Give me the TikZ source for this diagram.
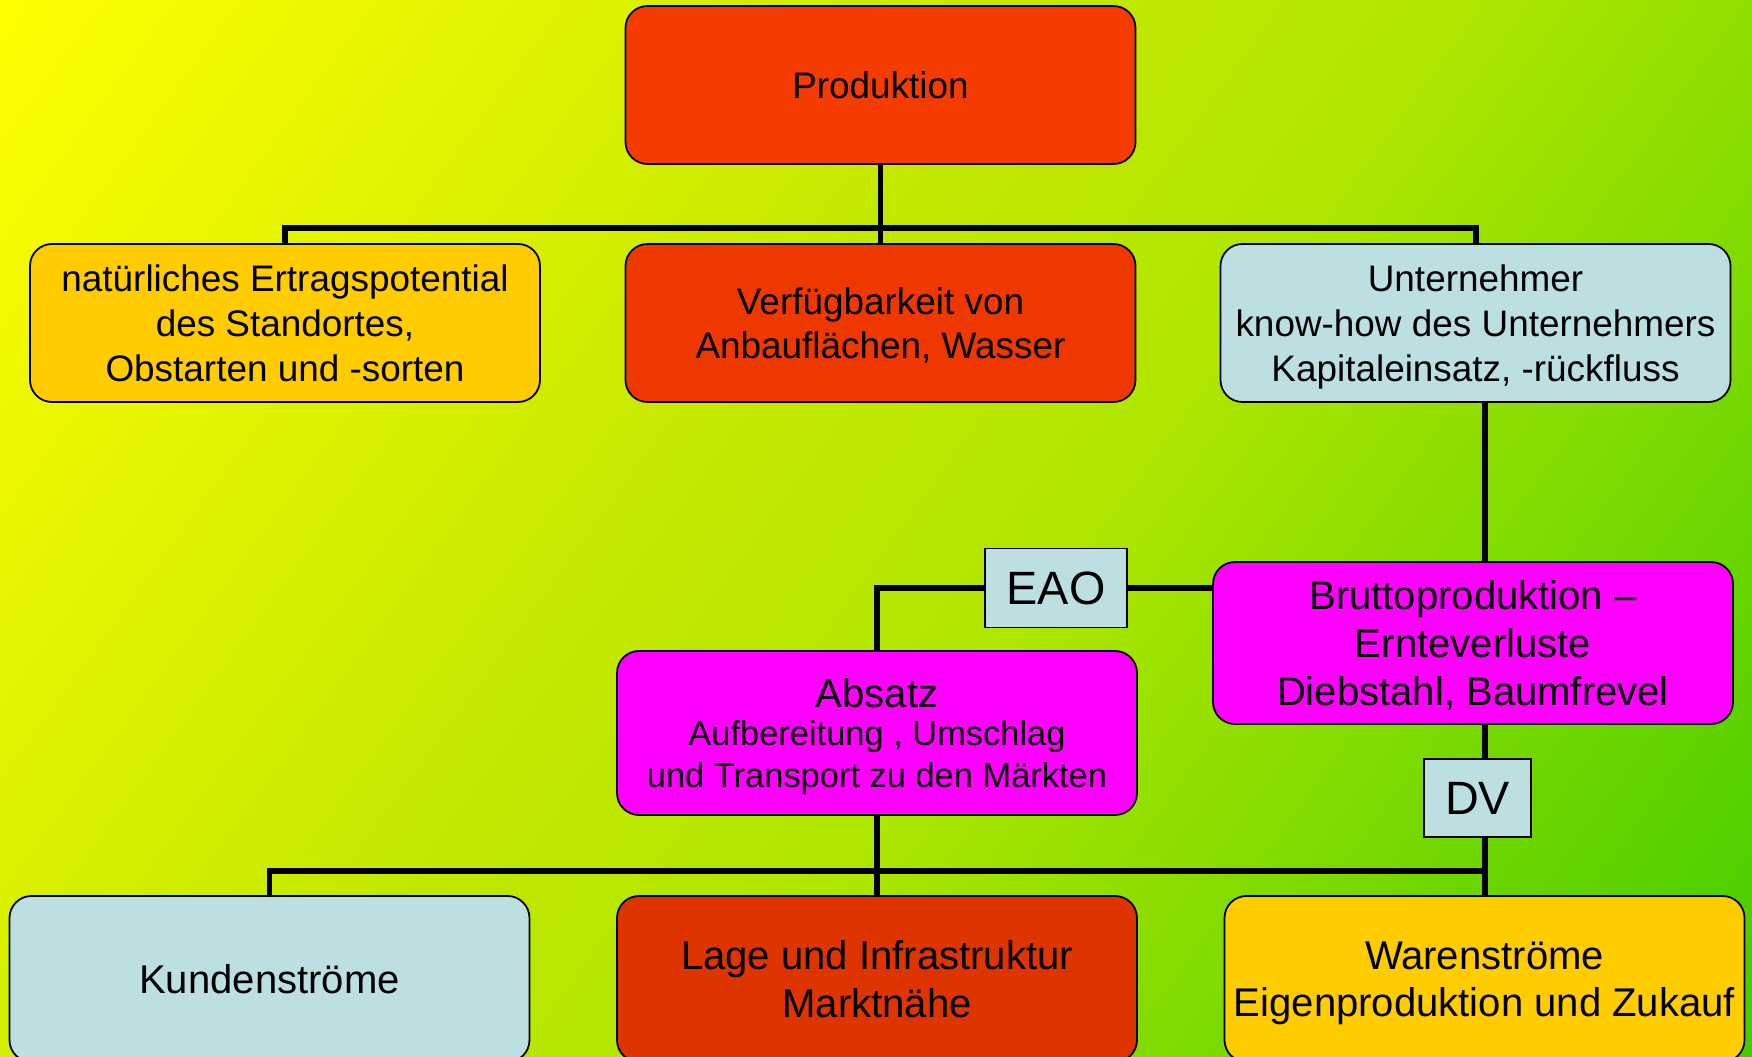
\documentclass[tikz,border=0pt]{standalone}
\usepackage{fontspec}
\setmainfont{Liberation Sans}
\usetikzlibrary{positioning,calc}
\definecolor{bgtop}{RGB}{255,255,0}
\definecolor{bgmida}{RGB}{196,232,0}
\definecolor{bgmidb}{RGB}{174,230,0}
\definecolor{bgbot}{RGB}{66,204,0}
\definecolor{redbox}{RGB}{245,60,0}
\definecolor{redbox2}{RGB}{238,56,0}
\definecolor{redbox3}{RGB}{222,52,0}
\definecolor{goldbox}{RGB}{255,204,0}
\definecolor{bluebox}{RGB}{188,224,226}
\definecolor{pinkbox}{RGB}{255,0,255}
\pgfdeclareverticalshading{bgfade}{100bp}{color(0bp)=(bgbot); color(15bp)=(bgbot);
  color(44bp)=(bgmidb); color(56bp)=(bgmida); color(85bp)=(bgtop); color(100bp)=(bgtop)}
\tikzset{
  box/.style={draw, line width=.5pt, rounded corners=.22cm, inner sep=0pt, align=center, text depth=0pt,
    minimum width=5.1cm, minimum height=1.58cm, font=\fontsize{10.5}{12.7}\selectfont},
  lowbox/.style={box, minimum width=5.2cm, minimum height=1.66cm, font=\fontsize{11.4}{13.4}\selectfont},
  tagbox/.style={draw, line width=.5pt, fill=bluebox, inner sep=0pt, font=\fontsize{13.3}{16}\selectfont},
  link/.style={line width=1.7pt}
}
\begin{document}
\begin{tikzpicture}
      \clip (0,0) rectangle (17.52,-10.57);
      \shade[shading=bgfade, shading angle=54] (0,0) rectangle (17.52,-10.57);

      % top row
      \node[box, fill=redbox] (prod) at (8.805,-.85) {Produktion};

      \node[box, fill=goldbox] (nat) at (2.85,-3.23) {natürliches Ertragspotential\\des Standortes,\\Obstarten und -sorten};
      \node[box, fill=redbox2] (verf) at (8.805,-3.23) {Verfügbarkeit von\\Anbauflächen, Wasser};
      \node[box, fill=bluebox] (untern) at (14.755,-3.23) {Unternehmer\\know-how des Unternehmers\\Kapitaleinsatz, -rückfluss};

      % middle
      \node[box, fill=pinkbox, minimum width=5.2cm, minimum height=1.62cm, font=\fontsize{11.4}{13.7}\selectfont] (brutto) at (14.73,-6.43) {Bruttoproduktion --\\Ernteverluste\\Diebstahl, Baumfrevel};
      \node[tagbox, minimum width=1.42cm, minimum height=.79cm] (eao) at (10.56,-5.88) {EAO};
      \node[box, fill=pinkbox, minimum width=5.2cm, minimum height=1.64cm, font=\fontsize{9.8}{12}\selectfont] (absatz) at (8.77,-7.33) {{\fontsize{11.4}{12}\selectfont Absatz}\\[-1pt]Aufbereitung , Umschlag\\und Transport zu den Märkten};
      \node[tagbox, minimum width=1.07cm, minimum height=.78cm] (dv) at (14.775,-7.98) {DV};

      % bottom row
      \node[lowbox, fill=bluebox] (kunden) at (2.695,-9.79) {Kundenströme};
      \node[lowbox, fill=redbox3] (lage) at (8.77,-9.79) {Lage und Infrastruktur\\Marktnähe};
      \node[lowbox, fill=goldbox] (waren) at (14.845,-9.79) {Warenströme\\Eigenproduktion und Zukauf};

      % links
      \draw[link] (prod.south) -- (verf.north);
      \draw[link] (nat.north) -- ++(0,.15) -| (untern.north);
      \draw[link] (untern.south -| waren.north) -- (brutto.north -| waren.north);
      \draw[link] (brutto.south -| waren.north) -- (dv.north -| waren.north);
      \draw[link] (dv.south -| waren.north) -- (waren.north);
      \draw[link] (kunden.north) |- ($(waren.north)+(0,.245)$);
      \draw[link] (absatz.south) -- (lage.north);
      \draw[link] (absatz.north) |- (eao.west);
      \draw[link] (eao.east) -- (eao.east -| brutto.west);
    \end{tikzpicture}
\end{document}
